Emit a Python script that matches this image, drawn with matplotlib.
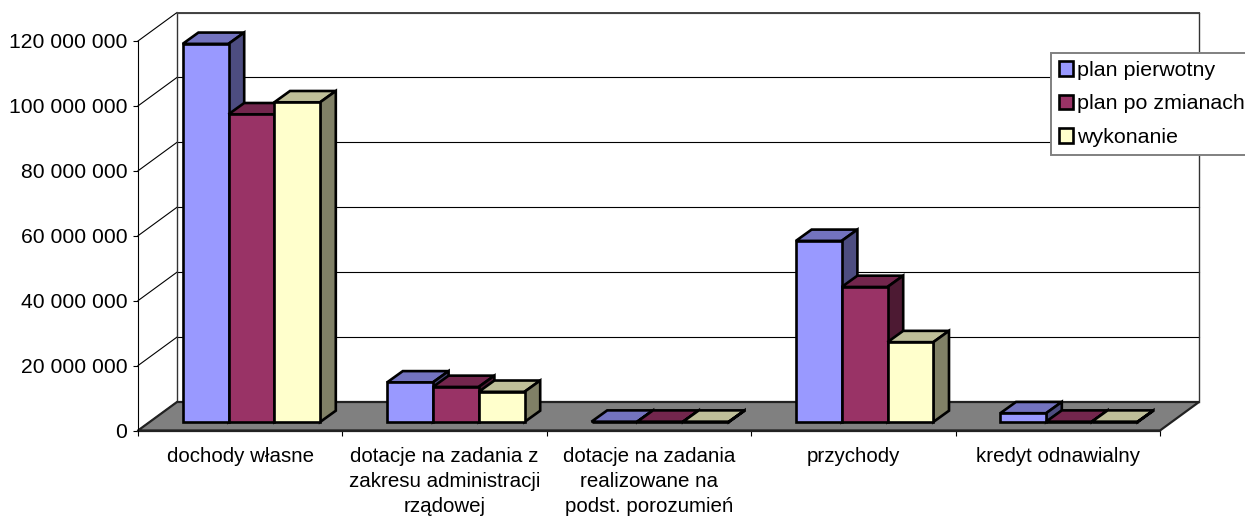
import numpy as np
from matplotlib import pyplot as plt
from matplotlib.patches import Polygon, Patch

plt.rcParams['font.family'] = ['Liberation Sans', 'DejaVu Sans']

# wartosci
categories = ['dochody własne',
              'dotacje na zadania z\nzakresu administracji\nrządowej',
              'dotacje na zadania\nrealizowane na\npodst. porozumień',
              'przychody',
              'kredyt odnawialny']
plan_pierwotny = [116500000, 12200000, 100000, 55800000, 2700000]
plan_po_zmianach = [94800000, 10800000, 100000, 41600000, 100000]
wykonanie = [98500000, 9300000, 100000, 24600000, 100000]
series_names = ['plan pierwotny', 'plan po zmianach', 'wykonanie']
y_ticks = [0, 20000000, 40000000, 60000000, 80000000, 100000000, 120000000]
y_labels = ['0', '20 000 000', '40 000 000', '60 000 000', '80 000 000', '100 000 000', '120 000 000']

front_colors = ['#9999FF', '#993366', '#FFFFCC']
top_colors = ['#7373BF', '#73264D', '#BFBF99']
side_colors = ['#4D4D80', '#4D1A33', '#808066']

W, H = 1245, 518
fig = plt.figure(figsize=(W / 100, H / 100), dpi=100)
ax = fig.add_axes([138 / W, (H - 430.5) / H, 1022 / W, 389.5 / H])
ax.set_xlim(0, 5)
ax.set_ylim(0, 120000000)
ax.patch.set_visible(False)

# px -> jednostki danych
px_x = 5 / 1022
px_y = 120000000 / 389.5
wall_dx, wall_dy = 39 * px_x, 28.5 * px_y
bar_dx, bar_dy = 11.2 * px_x, 8.5 * px_y
depth_dx, depth_dy = 15.7 * px_x, 11.3 * px_y
bar_w = 45.8 * px_x
bar_lw = 1.9

# podloga i sciany
ax.add_patch(Polygon([(0, 0), (5, 0), (5 + wall_dx, wall_dy), (wall_dx, wall_dy)],
                     facecolor='#808080', edgecolor='#222222', lw=1.6, clip_on=False, zorder=1))
for t in y_ticks:
    if t > 0:
        ax.plot([wall_dx, 5 + wall_dx], [t + wall_dy, t + wall_dy], color='black', lw=0.8,
                clip_on=False, zorder=0.5)
    ax.plot([0, wall_dx], [t, t + wall_dy], color='black', lw=0.8, clip_on=False, zorder=0.5)
top_y = 120000000 + wall_dy
ax.plot([wall_dx, wall_dx], [wall_dy, top_y], color='#333333', lw=1, clip_on=False, zorder=0.6)
ax.plot([5 + wall_dx, 5 + wall_dx], [wall_dy, top_y], color='#333333', lw=1, clip_on=False, zorder=0.6)
ax.plot([wall_dx, 5 + wall_dx], [top_y, top_y], color='#444444', lw=1.4, clip_on=False, zorder=0.6)

# slupki
x = np.arange(5) + 0.5
series = [plan_pierwotny, plan_po_zmianach, wykonanie]
for s, vals in enumerate(series):
    z = 3 + s
    left = x + (s - 1) * bar_w - bar_w / 2 + bar_dx
    ax.bar(left, vals, width=bar_w, bottom=bar_dy, align='edge', color=front_colors[s],
           edgecolor='black', linewidth=bar_lw, zorder=z + 0.5, clip_on=False)
    for l, v in zip(left, vals):
        r = l + bar_w
        top = v + bar_dy
        ax.add_patch(Polygon([(l, top), (r, top), (r + depth_dx, top + depth_dy), (l + depth_dx, top + depth_dy)],
                             facecolor=top_colors[s], edgecolor='black', lw=bar_lw, zorder=z, clip_on=False))
        ax.add_patch(Polygon([(r, bar_dy), (r, top), (r + depth_dx, top + depth_dy), (r + depth_dx, bar_dy + depth_dy)],
                             facecolor=side_colors[s], edgecolor='black', lw=bar_lw, zorder=z, clip_on=False))

# osie
for name in ['top', 'right']:
    ax.spines[name].set_visible(False)
ax.spines['left'].set_linewidth(0.8)
ax.spines['bottom'].set_linewidth(1.6)
ax.spines['bottom'].set_color('#222222')
ax.spines['bottom'].set_zorder(2)
ax.set_yticks(y_ticks, y_labels)
ax.tick_params(axis='y', length=3.6, width=0.8, pad=4, labelsize=15.2)
ax.set_xticks(np.arange(6))
ax.tick_params(axis='x', which='major', length=3.6, width=0.8, labelbottom=False)
ax.set_xticks(x, categories, minor=True)
ax.tick_params(axis='x', which='minor', length=0, pad=11.6, labelsize=14.8)
for lab in ax.get_xticklabels(minor=True):
    lab.set_linespacing(1.42)
    lab.set_verticalalignment('top')

handles = [Patch(facecolor=c, edgecolor='black', linewidth=bar_lw) for c in front_colors]
leg = ax.legend(handles, series_names, loc='upper left', bbox_to_anchor=(1051 / W, 1 - 53 / H),
                bbox_transform=fig.transFigure, borderaxespad=0, fontsize=15.4, fancybox=False,
                framealpha=1, edgecolor='#808080', handlelength=0.65, handleheight=0.65,
                handletextpad=0.2, labelspacing=0.68, borderpad=0.37)
leg.get_frame().set_linewidth(1.4)
leg.set_zorder(10)

fig.savefig('out.png', dpi=100)
